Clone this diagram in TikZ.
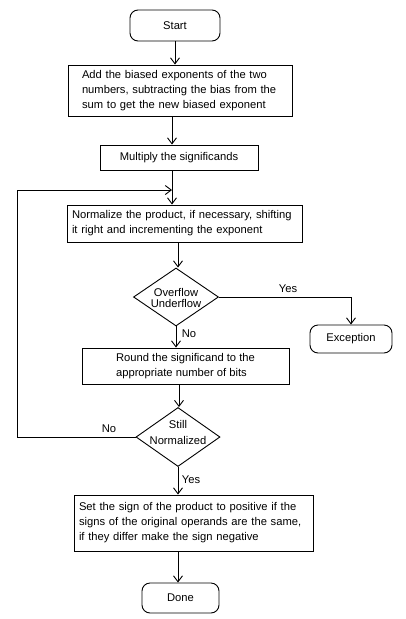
\documentclass[tikz,border=0pt]{standalone}
\usepackage{fontspec}
\setmainfont{Liberation Sans}
\usetikzlibrary{shapes.geometric,arrows.meta}
\begin{document}
\begin{tikzpicture}[x=1pt,y=-1pt,
  every node/.style={font=\fontsize{11.2}{15}\selectfont, inner sep=0pt},
  term/.style={draw, rounded corners=8pt, line width=0.9pt, align=center},
  procbox/.style={draw, line width=0.9pt, align=left},
  dia/.style={draw, diamond, line width=0.9pt, inner sep=0pt},
  arr/.style={line width=0.9pt, -{Straight Barb[length=6pt,width=9pt]}},
  lbl/.style={font=\fontsize{11.2}{12}\selectfont}
]
\useasboundingbox (0,0) rectangle (406,619);
\node[term, minimum width=90, minimum height=31] (start) at (175,25.5) {Start};
\node[procbox, text width=204, inner xsep=10pt, minimum height=51] (b1) at (180,90.5)
  {\hspace*{4pt}Add the biased exponents of the two\\\hspace*{4pt}numbers, subtracting the bias from the\\\hspace*{4pt}sum to get the new biased exponent};
\node[procbox, minimum width=158, minimum height=25, align=center] (b2) at (179,157.5) {Multiply the significands};
\node[procbox, text width=225, inner xsep=5pt, minimum height=37] (b3) at (184.5,223.5)
  {Normalize the product, if necessary, shifting\\it right and incrementing the exponent};
\node[dia, minimum width=85, minimum height=58] (d1) at (176,297) {};
\node[align=center, font=\fontsize{11.2}{11}\selectfont] (d1t) at (176,297.5) {Overflow\\Underflow};
\node[term, minimum width=82, minimum height=28] (exc) at (351,339) {Exception};
\node[procbox, minimum width=207, minimum height=36] (b4) at (185.5,366)
  {Round the significand to the\\appropriate number of bits};
\node[dia, minimum width=84, minimum height=59] (d2) at (178,437) {};
\node[align=center, font=\fontsize{11.2}{16}\selectfont] (d2t) at (178,432) {Still\\Normalized};
\node[procbox, text width=229, inner xsep=5pt, minimum height=56] (b5) at (193.5,523)
  {Set the sign of the product to positive if the\\signs of the original operands are the same,\\if they differ make the sign negative};
\node[term, minimum width=77, minimum height=30] (done) at (180.5,598) {Done};

\coordinate (xa) at (172,0);
\coordinate (xb) at (178,0);
\coordinate (xc) at (179,0);
\coordinate (xl) at (17,0);
\coordinate (m) at (172,190);

\draw[arr] (start.south) -- (start.south |- b1.north);
\draw[arr] (b1.south -| xa) -- (b2.north -| xa);
\draw[arr] (b2.south -| xa) -- (b3.north -| xa);
\draw[arr] (b3.south -| xb) -- (d1.north -| xb);
\draw[arr] (d1.south) -- (d1.south |- b4.north);
\draw[arr] (d1.east) -| (exc.north);
\draw[arr] (b4.south -| xc) -- (d2.north -| xc);
\draw[arr] (d2.south) -- (d2.south |- b5.north);
\draw[arr] (b5.south -| xb) -- (done.north -| xb);
\draw[arr] (d2.west) -- (d2.west -| xl) |- (m);

\node[lbl] (yes1) at (288,289) {Yes};
\node[lbl] (no1) at (189,334) {No};
\node[lbl] (no2) at (109,429) {No};
\node[lbl] (yes2) at (191,480) {Yes};
\end{tikzpicture}
\end{document}
